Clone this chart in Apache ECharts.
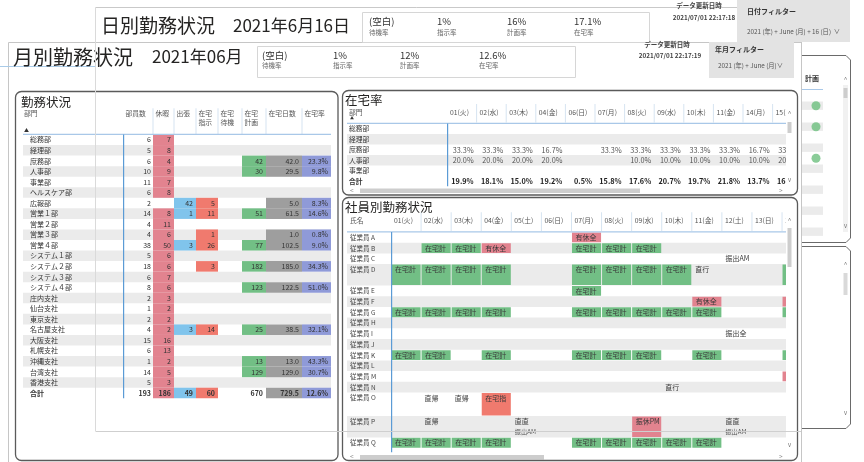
<!DOCTYPE html>
<html>
<head>
<meta charset="utf-8">
<script src="https://cdn.jsdelivr.net/npm/echarts@6/dist/echarts.min.js"></script>
<style>
html, body { margin: 0; padding: 0; background: #fff; }
#main { width: 864px; height: 462px; }
</style>
</head>
<body>
<div id="main"></div>
<script>
// ---------- data ----------
const dailyTitle = '日別勤務状況';
const dailyDate = '2021年6月16日';
const monthlyTitle = '月別勤務状況';
const monthlyDate = '2021年06月';
const kpiLabels = ['待機率', '指示率', '計画率', '在宅率'];
const dailyKpiValues = ['(空白)', '1%', '16%', '17.1%'];
const monthlyKpiValues = ['(空白)', '1%', '12%', '12.6%'];

const depts = ['総務部', '経理部', '庶務部', '人事部', '事業部', 'ヘルスケア部', '広報部', '営業１部', '営業２部', '営業３部', '営業４部',
  'システム１部', 'システム２部', 'システム３部', 'システム４部', '庄内支社', '仙台支社', '東京支社', '名古屋支社', '大阪支社',
  '札幌支社', '沖縄支社', '台湾支社', '香港支社', '合計'];
const deptHeaders = ['部員数', '休暇', '出張', '在宅\n指示', '在宅\n待機', '在宅\n計画', '在宅日数', '在宅率'];
const deptMembers = [6, 5, 6, 10, 11, 6, 2, 14, 4, 4, 38, 5, 18, 6, 8, 2, 1, 2, 4, 15, 6, 1, 14, 5, 193];
const deptLeave = [7, 8, 4, 9, 7, 8, null, 8, 11, 6, 50, 6, 6, 7, 6, 3, 2, 2, 2, 16, 13, 2, 5, 3, 186];
const deptTrip = [null, null, null, null, null, null, 42, 1, null, null, 3, null, null, null, null, null, null, null, 3, null, null, null, null, null, 49];
const deptWfhOrder = [null, null, null, null, null, null, 5, 11, null, 1, 26, null, 3, null, null, null, null, null, 14, null, null, null, null, null, 60];
const deptWfhStandby = [];
const deptWfhPlan = [null, null, 42, 30, null, null, null, 51, null, null, 77, null, 182, null, 123, null, null, null, 25, null, null, 13, 129, null, 670];
const deptWfhDays = [null, null, 42.0, 29.5, null, null, 5.0, 61.5, null, 1.0, 102.5, null, 185.0, null, 122.5, null, null, null, 38.5, null, null, 13.0, 129.0, null, 729.5];
const deptWfhRate = [null, null, 23.3, 9.8, null, null, 8.3, 14.6, null, 0.8, 9.0, null, 34.3, null, 51.0, null, null, null, 32.1, null, null, 43.3, 30.7, null, 12.6];

const rateDays = ['01(火)', '02(水)', '03(木)', '04(金)', '06(日)', '07(月)', '08(火)', '09(水)', '10(木)', '11(金)', '14(月)', '15(火)'];
const rateDepts = ['総務部', '経理部', '庶務部', '人事部', '事業部', '合計'];
const rateGeneral = [33.3, 33.3, 33.3, 16.7, null, 33.3, 33.3, 33.3, 33.3, 33.3, 16.7, 33.3];
const rateHR = [20.0, 20.0, 20.0, 20.0, null, null, 10.0, 10.0, 10.0, 10.0, 10.0, 20.0];
const rateTotal = [19.9, 18.1, 15.0, 19.2, 0.5, 15.8, 17.6, 20.7, 19.7, 21.8, 13.7, 16.4];
const rateRows = [[], [], rateGeneral, rateHR, [], rateTotal];

const empNames = ['従業員 A', '従業員 B', '従業員 C', '従業員 D', '従業員 E', '従業員 F', '従業員 G', '従業員 H', '従業員 I',
  '従業員 J', '従業員 K', '従業員 L', '従業員 M', '従業員 N', '従業員 O', '従業員 P', '従業員 Q'];
const empDays = ['01(火)', '02(水)', '03(木)', '04(金)', '05(土)', '06(日)', '07(月)', '08(火)', '09(水)', '10(木)', '11(金)', '12(土)', '13(日)', '14(月)'];
// [employee, day]
const empWfhPlan = [[1, 1], [1, 2], [1, 6], [1, 7], [1, 8],
  [3, 0], [3, 1], [3, 2], [3, 3], [3, 6], [3, 7], [3, 8], [3, 9], [3, 13],
  [4, 6],
  [6, 0], [6, 1], [6, 2], [6, 3], [6, 6], [6, 7], [6, 8], [6, 9], [6, 10], [6, 13],
  [10, 0], [10, 1], [10, 3], [10, 6], [10, 7], [10, 8], [10, 10], [10, 13],
  [16, 0], [16, 1], [16, 2], [16, 3], [16, 6], [16, 7], [16, 8], [16, 9], [16, 10]];
const empPaidLeave = [[0, 6], [1, 3], [5, 10], [5, 13], [12, 13]];
const empWfhOrder = [[14, 3]];
const empSubLeavePM = [[15, 8]];
const empNotes = [[2, 11, '振出AM'], [3, 10, '直行'], [8, 11, '振出全'], [13, 9, '直行'], [14, 1, '直帰'], [14, 2, '直帰'],
  [15, 1, '直帰'], [15, 4, '直直', '振出AM'], [15, 11, '直直', '振出AM']];
const empLines = [1, 1, 1, 2, 1, 1, 1, 1, 1, 1, 1, 1, 1, 1, 2.2, 2, 1];

const planFlagRows = [0, 2, 5];

// ---------- style / layout ----------
const FONT = '"Noto Sans CJK JP", "Noto Sans", sans-serif';
const C = {
    stripe: '#ebebeb', leave: '#e2838f', trip: '#80c4ec', order: '#f07a6e', plan: '#72bf85',
    days: '#9e9e9e', rate: '#8f9ad8', blue: '#5b9bd5', hdrLine: '#a9c8e8', sep: '#d6e4f1', text: '#333'
};
const LT = { top: 134.5, rowH: 10.55 };
const lCols = [[123, 153], [153, 174], [174, 196], [196, 218], [218, 242], [242, 266], [266, 302], [302, 331]];
const RT = { left: 347, top: 104, hdr: 19.5, rowH: 10.5, width: 439, col0: 100, colW: 29.6 };
const ET = { left: 347, top: 212, hdr: 20, rowH: 10.7, width: 439, col0: 44, colW: 30.08, max: 20.6 };

function fmt1(v) { return v.toFixed(1); }

// ---------- left table cells ----------
const leftCells = [];
depts.forEach((d, r) => {
    if (r % 2 === 1) leftCells.push({ x0: 23, x1: 331, r0: r, r1: r + 1, fill: C.stripe });
});
depts.forEach((d, r) => {
    const bold = r === depts.length - 1;
    leftCells.push({ x0: 30, x1: 123, r0: r, r1: r + 1, ty: r + 0.5, text: d, bold: bold, pad: 0 });
    const vals = [deptMembers, deptLeave, deptTrip, deptWfhOrder, deptWfhStandby, deptWfhPlan, deptWfhDays, deptWfhRate];
    const fills = [null, C.leave, C.trip, C.order, null, bold ? null : C.plan, C.days, C.rate];
    vals.forEach((arr, k) => {
        const v = arr[r];
        if (v === null || v === undefined) return;
        let t = String(v);
        if (k === 6) t = fmt1(v);
        if (k === 7) t = fmt1(v) + '%';
        leftCells.push({ x0: lCols[k][0], x1: lCols[k][1], r0: r, r1: r + 1, ty: r + 0.5, text: t, fill: fills[k],
            align: 'right', pad: k === 0 ? 2 : 3, bold: bold });
    });
});
deptHeaders.forEach((h, k) => {
    leftCells.push({ x0: lCols[k][0], x1: lCols[k][1], r0: -2.45, r1: -0.1, ty: -2.45, text: h, va: 'top', pad: 2.5,
        color: '#555', size: 6.8 });
    if (k > 0) leftCells.push({ x0: lCols[k][0] - 0.5, x1: lCols[k][0] + 0.5, r0: -2.5, r1: -0.05, fill: C.sep });
});
leftCells.push({ x0: 24, x1: 60, r0: -2.45, r1: -1, ty: -2.45, text: '部門', va: 'top', pad: 0, color: '#555', size: 6.8 });
leftCells.push({ x0: 24, x1: 40, r0: -0.6, r1: -0.2, ty: -0.42, text: '▲', pad: 0, color: '#333', size: 5 });
leftCells.push({ x0: 23, x1: 331, r0: -0.06, r1: 0.05, fill: C.hdrLine });
leftCells.push({ x0: 123, x1: 124.2, r0: 0, r1: depts.length, fill: C.blue });

// ---------- rate table cells ----------
const rateCells = [];
rateDepts.forEach((d, r) => {
    if (r === 1 || r === 3) rateCells.push({ x0: 0, x1: RT.width, r0: r, r1: r + 1, fill: C.stripe });
});
rateDepts.forEach((d, r) => {
    const bold = r === rateDepts.length - 1;
    rateCells.push({ x0: 2, x1: RT.col0, r0: r, r1: r + 1, ty: r + 0.5, text: d, bold: bold, pad: 0, size: 6.8 });
    rateRows[r].forEach((v, i) => {
        if (v === null || v === undefined) return;
        const x0 = RT.col0 + i * RT.colW;
        rateCells.push({ x0: x0, x1: x0 + RT.colW, r0: r, r1: r + 1, ty: r + 0.5, text: fmt1(v) + '%', align: 'right',
            pad: 3, bold: bold, size: 7.3, color: bold ? '#222' : '#555' });
    });
});
rateCells.push({ x0: 2, x1: 60, r0: -1.6, r1: -0.5, ty: -1.08, text: '部門', pad: 0, color: '#555', size: 6.8 });
rateCells.push({ x0: 3, x1: 20, r0: -0.7, r1: -0.2, ty: -0.47, text: '▲', pad: 0, color: '#333', size: 4 });
rateDays.forEach((h, i) => {
    const x0 = RT.col0 + i * RT.colW;
    rateCells.push({ x0: x0, x1: x0 + RT.colW, r0: -1.8, r1: -0.1, ty: -1.08, text: h, pad: 3, color: '#555', size: 6.8 });
    rateCells.push({ x0: x0 + RT.colW - 0.5, x1: x0 + RT.colW + 0.5, r0: -1.85, r1: -0.1, fill: C.sep });
});
rateCells.push({ x0: 0, x1: RT.width, r0: -0.07, r1: 0.05, fill: C.hdrLine });
rateCells.push({ x0: RT.col0, x1: RT.col0 + 1.2, r0: 0, r1: rateDepts.length, fill: C.blue });

// ---------- employee table cells ----------
const empStart = [];
let acc = 0;
empLines.forEach(l => { empStart.push(acc); acc += l; });
const empCells = [];
empNames.forEach((n, i) => {
    if (i % 2 === 1) empCells.push({ x0: 0, x1: ET.width, r0: empStart[i], r1: empStart[i] + empLines[i], fill: C.stripe });
});
empNames.forEach((n, i) => {
    empCells.push({ x0: 3, x1: ET.col0, r0: empStart[i], r1: empStart[i] + 1, ty: empStart[i] + 0.5, text: n, pad: 0, size: 6.5, color: '#444' });
});
function addEmp(list, label, fill) {
    list.forEach(p => {
        const s = empStart[p[0]];
        const x0 = ET.col0 + p[1] * ET.colW;
        empCells.push({ x0: x0 + 0.5, x1: x0 + ET.colW - 0.5, r0: s + 0.04, r1: s + empLines[p[0]] - 0.04, ty: s + 0.5,
            text: label, fill: fill, pad: 3.5, size: 7, color: '#3a3a3a' });
    });
}
addEmp(empWfhPlan, '在宅計', C.plan);
addEmp(empPaidLeave, '有休全', C.leave);
addEmp(empWfhOrder, '在宅指', C.order);
addEmp(empSubLeavePM, '振休PM', C.leave);
empNotes.forEach(p => {
    const s = empStart[p[0]];
    const x0 = ET.col0 + p[1] * ET.colW;
    empCells.push({ x0: x0, x1: x0 + ET.colW, r0: s, r1: s + 1, ty: s + 0.5, text: p[2], pad: 3.5, size: 7, color: '#3a3a3a' });
    if (p[3]) empCells.push({ x0: x0, x1: x0 + ET.colW, r0: s + 1, r1: s + 2, ty: s + 1.5, text: p[3], pad: 3.5, size: 6.2, color: '#555' });
});
empCells.push({ x0: 3, x1: ET.col0, r0: -1.7, r1: -0.5, ty: -1.12, text: '氏名', pad: 0, color: '#555', size: 6.8 });
empDays.forEach((h, i) => {
    const x0 = ET.col0 + i * ET.colW;
    empCells.push({ x0: x0, x1: x0 + ET.colW, r0: -1.8, r1: -0.1, ty: -1.12, text: h, pad: 3, color: '#555', size: 6.8 });
    empCells.push({ x0: x0 + ET.colW - 0.5, x1: x0 + ET.colW + 0.5, r0: -1.85, r1: -0.1, fill: C.sep });
});
empCells.push({ x0: 0, x1: ET.width, r0: -0.07, r1: 0.05, fill: C.hdrLine });
empCells.push({ x0: ET.col0, x1: ET.col0 + 1.2, r0: 0, r1: ET.max, fill: C.blue });

// ---------- render helpers ----------
function cellRender(cells) {
    return function (params, api) {
        const c = cells[params.dataIndex];
        const a = api.coord([api.value(0), api.value(1)]);
        const b = api.coord([api.value(2), api.value(3)]);
        const kids = [];
        if (c.fill) {
            kids.push({ type: 'rect', shape: { x: a[0], y: a[1], width: b[0] - a[0], height: b[1] - a[1] }, style: { fill: c.fill } });
        }
        if (c.text) {
            const ty = api.coord([api.value(0), api.value(4)])[1];
            const tx = c.align === 'right' ? b[0] - c.pad : a[0] + c.pad;
            kids.push({ type: 'text', style: {
                text: c.text, x: tx, y: ty, fill: c.color || C.text, fontSize: c.size || 7,
                fontFamily: FONT, fontWeight: c.bold ? 'bold' : 'normal', lineHeight: 9.5,
                align: c.align || 'left', verticalAlign: c.va || 'middle'
            } });
        }
        return { type: 'group', children: kids };
    };
}
function cellSeries(cells, idx, clip) {
    return {
        type: 'custom', xAxisIndex: idx, yAxisIndex: idx, clip: clip, silent: true,
        data: cells.map(c => [c.x0, c.r0, c.x1, c.r1, c.ty === undefined ? c.r0 : c.ty]),
        encode: { x: [0, 2], y: [1, 3] },
        renderItem: cellRender(cells)
    };
}

function T(x, y, text, size, o) {
    o = o || {};
    return { type: 'text', x: x, y: y, z: o.z || 30, silent: true, style: {
        text: text, fill: o.color || '#252423', fontSize: size, fontFamily: FONT,
        fontWeight: o.bold ? 'bold' : 'normal', align: o.align || 'left', verticalAlign: 'middle' } };
}
function R(x, y, w, h, o) {
    return { type: 'rect', z: o.z || 1, silent: true, shape: { x: x, y: y, width: w, height: h, r: o.r || 0 },
        style: { fill: o.fill || 'none', stroke: o.stroke || null, lineWidth: o.lw || 1 } };
}
function L(x1, y1, x2, y2, stroke, lw, z) {
    return { type: 'line', z: z || 30, silent: true, shape: { x1: x1, y1: y1, x2: x2, y2: y2 }, style: { stroke: stroke, lineWidth: lw || 1 } };
}
function PL(points, stroke, lw, z) {
    return { type: 'polyline', z: z || 30, silent: true, shape: { points: points }, style: { fill: 'none', stroke: stroke, lineWidth: lw || 1 } };
}

const frame = { stroke: '#5a5a5a', lw: 1.3, r: 6, z: 31 };
const graphics = [
    // back window (daily)
    L(95.5, 7.5, 737, 7.5, '#c9c9c9', 1, 3),
    L(95.5, 7.5, 95.5, 431, '#dadada', 1, 40),
    L(95.5, 431.5, 801, 431.5, '#cfcfcf', 1, 40),
    T(101, 26, dailyTitle, 19),
    T(233, 26, dailyDate, 17),
    R(362.5, 12.5, 287, 30, { stroke: '#d6d6d6', z: 3 }),
    R(737, 0, 113, 42, { fill: '#e3e3e3', z: 2 }),
    T(699, 6, 'データ更新日時', 6.5, { bold: true, align: 'center', color: '#444' }),
    T(704, 18, '2021/07/01 22:17:18', 6.3, { bold: true, align: 'center', color: '#444' }),
    T(747, 11, '日付フィルター', 7, { bold: true, color: '#333' }),
    T(747, 32, '2021 (年) + June (月) + 16 (日)  ∨', 6.3, { color: '#555' }),
    // front window (monthly)
    R(8.5, 42.5, 793, 440, { stroke: '#c6c6c6', fill: '#fff', z: 1 }),
    L(0, 66.5, 95, 66.5, '#a9cbe8', 1, 3),
    T(13, 57, monthlyTitle, 20),
    T(152, 57, monthlyDate, 17),
    R(257.5, 46.5, 318, 31, { stroke: '#d6d6d6', z: 3 }),
    R(709, 42, 85, 36, { fill: '#e3e3e3', z: 3 }),
    T(667, 45, 'データ更新日時', 6.5, { bold: true, align: 'center', color: '#444' }),
    T(670, 56, '2021/07/01 22:17:19', 6.3, { bold: true, align: 'center', color: '#444' }),
    T(715, 49, '年月フィルター', 7, { bold: true, color: '#333' }),
    T(718, 66, '2021 (年) + June (月)∨', 6.3, { color: '#555' }),
    // panels
    R(15.5, 91.5, 322.5, 369, frame),
    R(342.5, 90.5, 455, 104.5, frame),
    R(342.5, 197.5, 455, 263, frame),
    T(21, 102, '勤務状況', 12.5),
    T(345, 100.5, '在宅率', 12.5),
    T(345, 207.5, '社員別勤務状況', 12.5),
    // rate table scrollbars
    T(350, 191, '<', 6.5, { color: '#888' }),
    R(360, 188.5, 280, 4.5, { fill: '#cdcdcd', z: 30 }),
    T(779, 191, '>', 6.5, { color: '#888' }),
    R(787.5, 122, 4, 11, { fill: '#cdcdcd', z: 30 }),
    T(789.5, 114, '^', 6.5, { color: '#777', align: 'center' }),
    T(789.5, 180, 'v', 6, { color: '#777', align: 'center' }),
    // employee table scrollbars
    T(350, 457, '<', 6.5, { color: '#888' }),
    R(360, 455, 184, 4.5, { fill: '#cdcdcd', z: 30 }),
    T(779, 457, '>', 6.5, { color: '#888' }),
    R(787.5, 228, 4, 39, { fill: '#cdcdcd', z: 30 }),
    T(789.5, 221, '^', 6.5, { color: '#777', align: 'center' }),
    T(789.5, 445, 'v', 6, { color: '#777', align: 'center' }),
    // right back panel
    PL([[801, 55.5], [846, 55.5], [850.5, 60], [850.5, 238], [846, 242.5], [801, 242.5]], '#6a6a6a', 1),
    T(805, 78, '計画', 7, { bold: true, color: '#333' }),
    L(801, 89.5, 823, 89.5, C.hdrLine, 1),
    R(843, 85, 5, 147, { fill: '#f1f1f1', z: 2 }),
    R(843.5, 88, 4, 10, { fill: '#cdcdcd', z: 3 }),
    T(845.5, 80, '^', 6.5, { color: '#777', align: 'center' }),
    T(845.5, 226, 'v', 6, { color: '#777', align: 'center' }),
    PL([[801, 246.5], [846, 246.5], [850.5, 251], [850.5, 424], [846, 428.5], [801, 428.5]], '#6a6a6a', 1),
    R(843.5, 273, 4, 22, { fill: '#d9d9d9', z: 3 }),
    T(845.5, 265, '^', 6.5, { color: '#777', align: 'center' }),
    T(845.5, 413, 'v', 6, { color: '#777', align: 'center' }),
    L(801.5, 42, 801.5, 462, '#c6c6c6', 1, 30)
];
const kpiBack = [369, 437, 507, 574];
const kpiFront = [262, 333, 400, 479];
dailyKpiValues.forEach((v, i) => {
    graphics.push(T(kpiBack[i], 21, v, 9.5, { color: '#333' }));
    graphics.push(T(kpiBack[i], 33, kpiLabels[i], 6.5, { color: '#666' }));
});
monthlyKpiValues.forEach((v, i) => {
    graphics.push(T(kpiFront[i], 55, v, 9.5, { color: '#333' }));
    graphics.push(T(kpiFront[i], 66, kpiLabels[i], 6.5, { color: '#666' }));
});

// back panel stripes (rows of the hidden 計画 table)
const planStripeRows = [0, 2, 4, 6, 8, 10, 12];

const chart = echarts.init(document.getElementById('main'), null, { renderer: 'canvas' });
const hidden = { show: false };
const option = {
    animation: false,
    backgroundColor: '#fff',
    grid: [
        { left: 0, top: LT.top, width: 864, height: depts.length * LT.rowH },
        { left: RT.left, top: RT.top, width: RT.width, height: RT.hdr + rateDepts.length * RT.rowH },
        { left: ET.left, top: ET.top, width: ET.width, height: ET.hdr + ET.max * ET.rowH },
        { left: 801, top: 100.5, width: 22, height: 13 * 10.5 }
    ],
    xAxis: [
        { type: 'value', gridIndex: 0, min: 0, max: 864, ...hidden },
        { type: 'value', gridIndex: 1, min: 0, max: RT.width, ...hidden },
        { type: 'value', gridIndex: 2, min: 0, max: ET.width, ...hidden },
        { type: 'value', gridIndex: 3, min: 0, max: 22, ...hidden }
    ],
    yAxis: [
        { type: 'value', gridIndex: 0, min: 0, max: depts.length, inverse: true, ...hidden },
        { type: 'value', gridIndex: 1, min: -RT.hdr / RT.rowH, max: rateDepts.length, inverse: true, ...hidden },
        { type: 'value', gridIndex: 2, min: -ET.hdr / ET.rowH, max: ET.max, inverse: true, ...hidden },
        { type: 'value', gridIndex: 3, min: 0, max: 13, inverse: true, ...hidden }
    ],
    graphic: { elements: graphics },
    series: [
        cellSeries(leftCells, 0, false),
        cellSeries(rateCells, 1, true),
        cellSeries(empCells, 2, true),
        {
            type: 'custom', xAxisIndex: 3, yAxisIndex: 3, silent: true,
            data: planStripeRows.map(r => [0, r]),
            renderItem: function (params, api) {
                const a = api.coord([0, api.value(1)]);
                const b = api.coord([22, api.value(1) + 0.8]);
                return { type: 'rect', shape: { x: a[0], y: a[1] + 1, width: b[0] - a[0], height: b[1] - a[1] }, style: { fill: C.stripe } };
            }
        },
        {
            type: 'scatter', xAxisIndex: 3, yAxisIndex: 3, silent: true, z: 5,
            symbolSize: 9, itemStyle: { color: '#6dbf7e' },
            data: planFlagRows.map(r => [15, r + 0.5])
        }
    ]
};
chart.setOption(option);
</script>
</body>
</html>
